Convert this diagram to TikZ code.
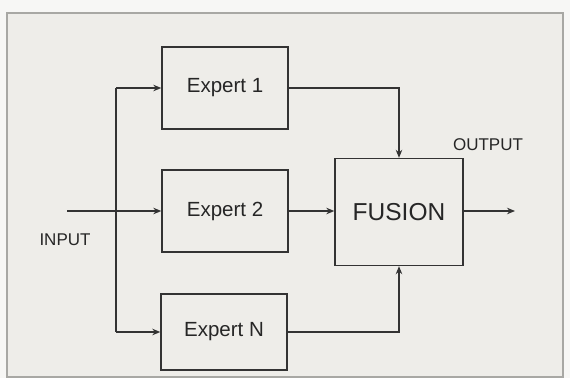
\documentclass[tikz,border=0pt]{standalone}
\usepackage{fontspec}
\setmainfont{Liberation Sans}
\usetikzlibrary{arrows.meta}
\definecolor{inkgray}{HTML}{333333}
\definecolor{paper}{HTML}{EEEDE9}
\definecolor{margin}{HTML}{F7F7F5}
\definecolor{rim}{HTML}{A8A8A4}
\tikzset{
    expert/.style={draw=inkgray, rectangle, line width=1.4pt, minimum width=126pt, minimum height=82pt, inner sep=0pt, align=center, text=black!85, font=\fontsize{20.5}{22}\selectfont},
    fusionbox/.style={draw=inkgray, rectangle, line width=1.4pt, minimum width=128pt, minimum height=107pt, inner sep=0pt, align=center, text=black!85, font=\fontsize{24.5}{26}\selectfont},
    tag/.style={text=black!85, font=\fontsize{17}{19}\selectfont, inner sep=0pt},
    arrow/.style={-{Stealth[length=8pt, width=6.5pt]}, line width=1.2pt, draw=inkgray}
}

\begin{document}
\begin{tikzpicture}[x=1pt, y=-1pt]

        % -----------------------------------------------------------------
        % SFONDO E CORNICE
        % -----------------------------------------------------------------
        \fill[margin] (0,0) rectangle (570,378);
        \useasboundingbox (0,0) rectangle (570,378);
        \draw[fill=paper, draw=rim, line width=1.5pt] (7,13) rectangle (563,377);

        % -----------------------------------------------------------------
        % BLOCCHI
        % -----------------------------------------------------------------
        \node[expert] (e1) at (225, 88) {Expert 1};
        \node[expert] (e2) at (225, 211) {Expert 2};
        \node[expert, minimum height=76pt] (en) at (224, 332) {Expert N};
        \node[fusionbox] (fusion) at (399, 212) {FUSION};

        \node[tag] (inlabel) at (65, 240) {INPUT};
        \node[tag] (outlabel) at (488, 145) {OUTPUT};

        % -----------------------------------------------------------------
        % COLLEGAMENTI
        % -----------------------------------------------------------------
        \coordinate (in) at (67, 211);
        \coordinate (bustop) at (116, 88);
        \coordinate (busbot) at (116, 332);
        \coordinate (out) at (515, 211);

        \draw[arrow] (in) -- (e2.west);
        \draw[line width=1.2pt, draw=inkgray] (bustop) -- (busbot);
        \draw[arrow] (bustop) -- (e1.west);
        \draw[arrow] (busbot) -- (en.west);

        \draw[arrow] (e1.east) -| (fusion.north);
        \draw[arrow] (e2.east) -- (fusion.west |- e2.east);
        \draw[arrow] (en.east) -| (fusion.south);
        \draw[arrow] (fusion.east |- out) -- (out);

\end{tikzpicture}
\end{document}
